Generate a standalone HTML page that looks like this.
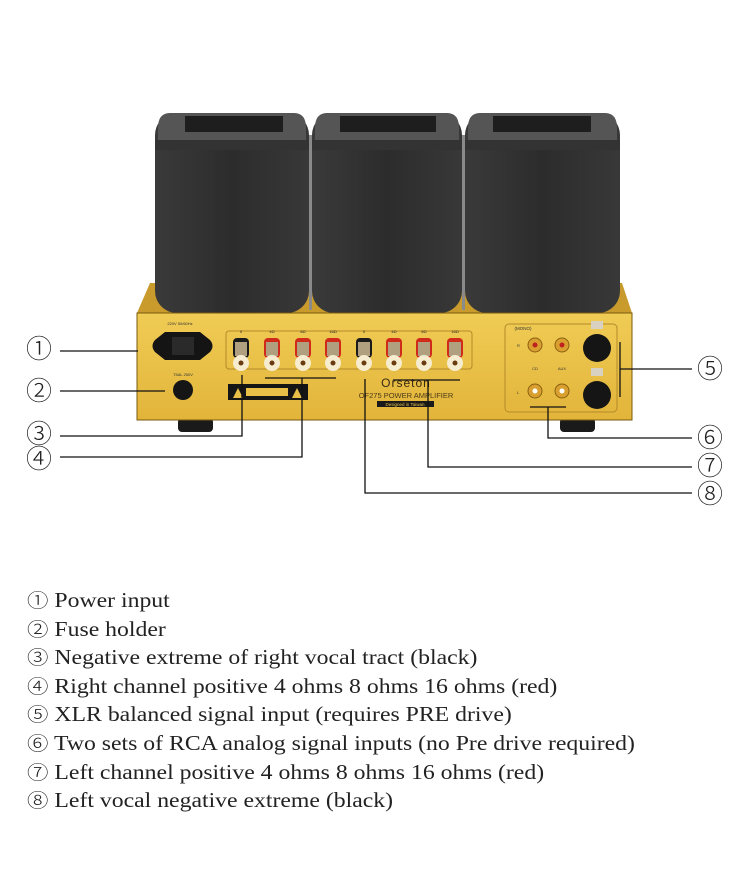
<!DOCTYPE html>
<html><head><meta charset="utf-8"><style>
html,body{margin:0;padding:0;background:#fff;width:750px;height:877px;overflow:hidden}
svg{position:absolute;left:0;top:0}
.list{position:absolute;left:27px;top:586px;font-family:"Liberation Serif","DejaVu Serif",serif;font-size:21px;line-height:28.6px;color:#222;white-space:nowrap;transform:scaleX(1.13);transform-origin:0 0}
.list span{font-family:"Noto Sans CJK JP",sans-serif;font-weight:300;font-size:19px}
</style></head><body>
<svg width="750" height="877" viewBox="0 0 750 877" font-family="Liberation Sans, DejaVu Sans, sans-serif">
<defs>
<linearGradient id="g" x1="0" y1="0" x2="0" y2="1"><stop offset="0" stop-color="#f0cc55"/><stop offset="1" stop-color="#e2b43a"/></linearGradient>
<linearGradient id="b" x1="0" y1="0" x2="1" y2="0"><stop offset="0" stop-color="#3a3a3a"/><stop offset="0.5" stop-color="#2c2c2c"/><stop offset="1" stop-color="#383838"/></linearGradient>
</defs>
<polygon points="150,283 622,283 632,313 137,313" fill="#c99a2c"/>
<g>
<rect x="155" y="113" width="154" height="200" rx="22" fill="url(#b)"/>
<path d="M170,113 H294 Q306,113 306,128 V140 H158 V128 Q158,113 170,113Z" fill="#555"/>
<rect x="185" y="116" width="98" height="16" fill="#1e1e1e"/>
<rect x="312" y="113" width="150" height="200" rx="22" fill="url(#b)"/>
<path d="M327,113 H447 Q459,113 459,128 V140 H315 V128 Q315,113 327,113Z" fill="#555"/>
<rect x="340" y="116" width="96" height="16" fill="#1e1e1e"/>
<rect x="465" y="113" width="155" height="200" rx="22" fill="url(#b)"/>
<path d="M480,113 H605 Q617,113 617,128 V140 H468 V128 Q468,113 480,113Z" fill="#555"/>
<rect x="493" y="116" width="98" height="16" fill="#1e1e1e"/>
<rect x="155" y="140" width="154" height="10" fill="#333"/>
<rect x="312" y="140" width="150" height="10" fill="#333"/>
<rect x="465" y="140" width="155" height="10" fill="#333"/>
<rect x="309" y="135" width="3" height="175" fill="#8a8a8a"/>
<rect x="462" y="135" width="3" height="175" fill="#8a8a8a"/>
</g>
<rect x="178" y="418" width="35" height="14" rx="4" fill="#1a1a1a"/>
<rect x="560" y="418" width="35" height="14" rx="4" fill="#1a1a1a"/>
<rect x="137" y="313" width="495" height="107" fill="url(#g)" stroke="#7a5a10" stroke-width="1"/>
<text x="180" y="325" font-size="4" text-anchor="middle" fill="#333">220V 50/60Hz</text>
<path d="M155,340 Q150,346 155,352 L165,360 L200,360 L210,352 Q215,346 210,340 L200,332 L165,332 Z" fill="#141414"/>
<rect x="172" y="337" width="22" height="18" fill="#2a2a2a"/>
<text x="183" y="376" font-size="4" text-anchor="middle" fill="#333">T5AL 250V</text>
<circle cx="183" cy="390" r="10" fill="#151515"/>
<rect x="226" y="331" width="246" height="38" rx="3" fill="none" stroke="#b48a2a" stroke-width="1"/>
<g fill="#222" font-size="4" text-anchor="middle">
<text x="241" y="333">0</text><text x="272" y="333">4Ω</text><text x="303" y="333">8Ω</text><text x="333" y="333">16Ω</text>
<text x="364" y="333">0</text><text x="394" y="333">4Ω</text><text x="424" y="333">8Ω</text><text x="455" y="333">16Ω</text>
</g>
<g>
<g transform="translate(241,0)"><rect x="-8" y="338" width="16" height="20" rx="4" fill="#1a1a1a"/><rect x="-6" y="342" width="12" height="14" fill="#b0a080"/><circle cx="0" cy="363" r="8" fill="#f6ecd0"/><circle cx="0" cy="363" r="2.5" fill="#6a3a10"/></g>
<g transform="translate(272,0)"><rect x="-8" y="338" width="16" height="20" rx="4" fill="#d02a1a"/><rect x="-6" y="342" width="12" height="14" fill="#b0a080"/><circle cx="0" cy="363" r="8" fill="#f6ecd0"/><circle cx="0" cy="363" r="2.5" fill="#6a3a10"/></g>
<g transform="translate(303,0)"><rect x="-8" y="338" width="16" height="20" rx="4" fill="#d02a1a"/><rect x="-6" y="342" width="12" height="14" fill="#b0a080"/><circle cx="0" cy="363" r="8" fill="#f6ecd0"/><circle cx="0" cy="363" r="2.5" fill="#6a3a10"/></g>
<g transform="translate(333,0)"><rect x="-8" y="338" width="16" height="20" rx="4" fill="#d02a1a"/><rect x="-6" y="342" width="12" height="14" fill="#b0a080"/><circle cx="0" cy="363" r="8" fill="#f6ecd0"/><circle cx="0" cy="363" r="2.5" fill="#6a3a10"/></g>
<g transform="translate(364,0)"><rect x="-8" y="338" width="16" height="20" rx="4" fill="#1a1a1a"/><rect x="-6" y="342" width="12" height="14" fill="#b0a080"/><circle cx="0" cy="363" r="8" fill="#f6ecd0"/><circle cx="0" cy="363" r="2.5" fill="#6a3a10"/></g>
<g transform="translate(394,0)"><rect x="-8" y="338" width="16" height="20" rx="4" fill="#d02a1a"/><rect x="-6" y="342" width="12" height="14" fill="#b0a080"/><circle cx="0" cy="363" r="8" fill="#f6ecd0"/><circle cx="0" cy="363" r="2.5" fill="#6a3a10"/></g>
<g transform="translate(424,0)"><rect x="-8" y="338" width="16" height="20" rx="4" fill="#d02a1a"/><rect x="-6" y="342" width="12" height="14" fill="#b0a080"/><circle cx="0" cy="363" r="8" fill="#f6ecd0"/><circle cx="0" cy="363" r="2.5" fill="#6a3a10"/></g>
<g transform="translate(455,0)"><rect x="-8" y="338" width="16" height="20" rx="4" fill="#d02a1a"/><rect x="-6" y="342" width="12" height="14" fill="#b0a080"/><circle cx="0" cy="363" r="8" fill="#f6ecd0"/><circle cx="0" cy="363" r="2.5" fill="#6a3a10"/></g>
</g>
<rect x="228" y="384" width="80" height="16" fill="#151515"/>
<rect x="246" y="388" width="42" height="8" fill="#e8c048"/>
<polygon points="233,398 238,388 243,398" fill="#e8c048"/>
<polygon points="292,398 297,388 302,398" fill="#e8c048"/>
<text x="406" y="387" font-size="12" text-anchor="middle" fill="#3a2a10" letter-spacing="1">Orseton</text>
<text x="406" y="398" font-size="7.5" text-anchor="middle" fill="#4a3a18">OF275 POWER AMPLIFIER</text>
<rect x="377" y="401" width="57" height="6" fill="#1a1a1a"/>
<text x="405" y="406" font-size="4.5" text-anchor="middle" fill="#e8c048">Designed in Taiwan</text>
<rect x="505" y="324" width="112" height="88" rx="4" fill="none" stroke="#b48a2a" stroke-width="1"/>
<text x="523" y="330" font-size="4.5" text-anchor="middle" fill="#333">(MONO)</text>
<text x="517" y="347" font-size="4" fill="#333">R</text>
<text x="517" y="394" font-size="4" fill="#333">L</text>
<text x="535" y="370" font-size="4" text-anchor="middle" fill="#333">CD</text>
<text x="562" y="370" font-size="4" text-anchor="middle" fill="#333">AUX</text>
<g fill="#d9a030" stroke="#8a6010" stroke-width="1">
<circle cx="535" cy="345" r="7"/><circle cx="562" cy="345" r="7"/><circle cx="535" cy="391" r="7"/><circle cx="562" cy="391" r="7"/>
</g>
<circle cx="535" cy="345" r="2.5" fill="#c02020"/><circle cx="562" cy="345" r="2.5" fill="#c02020"/>
<circle cx="535" cy="391" r="2.5" fill="#fff"/><circle cx="562" cy="391" r="2.5" fill="#fff"/>
<circle cx="597" cy="348" r="14" fill="#151515"/><circle cx="597" cy="395" r="14" fill="#151515"/>
<rect x="591" y="321" width="12" height="8" fill="#d8d0c0"/><rect x="591" y="368" width="12" height="8" fill="#d8d0c0"/>
<g stroke="#111" stroke-width="1.3" fill="none">
<line x1="60" y1="351" x2="138" y2="351"/>
<line x1="60" y1="391" x2="165" y2="391"/>
<polyline points="60,436 242,436 242,375"/>
<polyline points="60,457 302,457 302,378"/>
<line x1="265" y1="378" x2="336" y2="378"/>
<polyline points="692,493 365,493 365,379"/>
<polyline points="692,467 428,467 428,380"/>
<line x1="393" y1="380" x2="460" y2="380"/>
<polyline points="692,438 548,438 548,407"/>
<line x1="530" y1="407" x2="566" y2="407"/>
<line x1="620" y1="342" x2="620" y2="397"/>
<line x1="620" y1="369" x2="692" y2="369"/>
</g>
<g font-size="26" fill="#222" text-anchor="middle" font-family="Noto Sans CJK JP, DejaVu Sans, sans-serif" font-weight="300">
<text x="39" y="358">①</text>
<text x="39" y="400">②</text>
<text x="39" y="443">③</text>
<text x="39" y="468">④</text>
<text x="710" y="378">⑤</text>
<text x="710" y="447">⑥</text>
<text x="710" y="475">⑦</text>
<text x="710" y="503">⑧</text>
</g>
</svg>
<div class="list">
<div><span>①</span> Power input</div>
<div><span>②</span> Fuse holder</div>
<div><span>③</span> Negative extreme of right vocal tract (black)</div>
<div><span>④</span> Right channel positive 4 ohms 8 ohms 16 ohms (red)</div>
<div><span>⑤</span> XLR balanced signal input (requires PRE drive)</div>
<div><span>⑥</span> Two sets of RCA analog signal inputs (no Pre drive required)</div>
<div><span>⑦</span> Left channel positive 4 ohms 8 ohms 16 ohms (red)</div>
<div><span>⑧</span> Left vocal negative extreme (black)</div>
</div>
</body></html>
